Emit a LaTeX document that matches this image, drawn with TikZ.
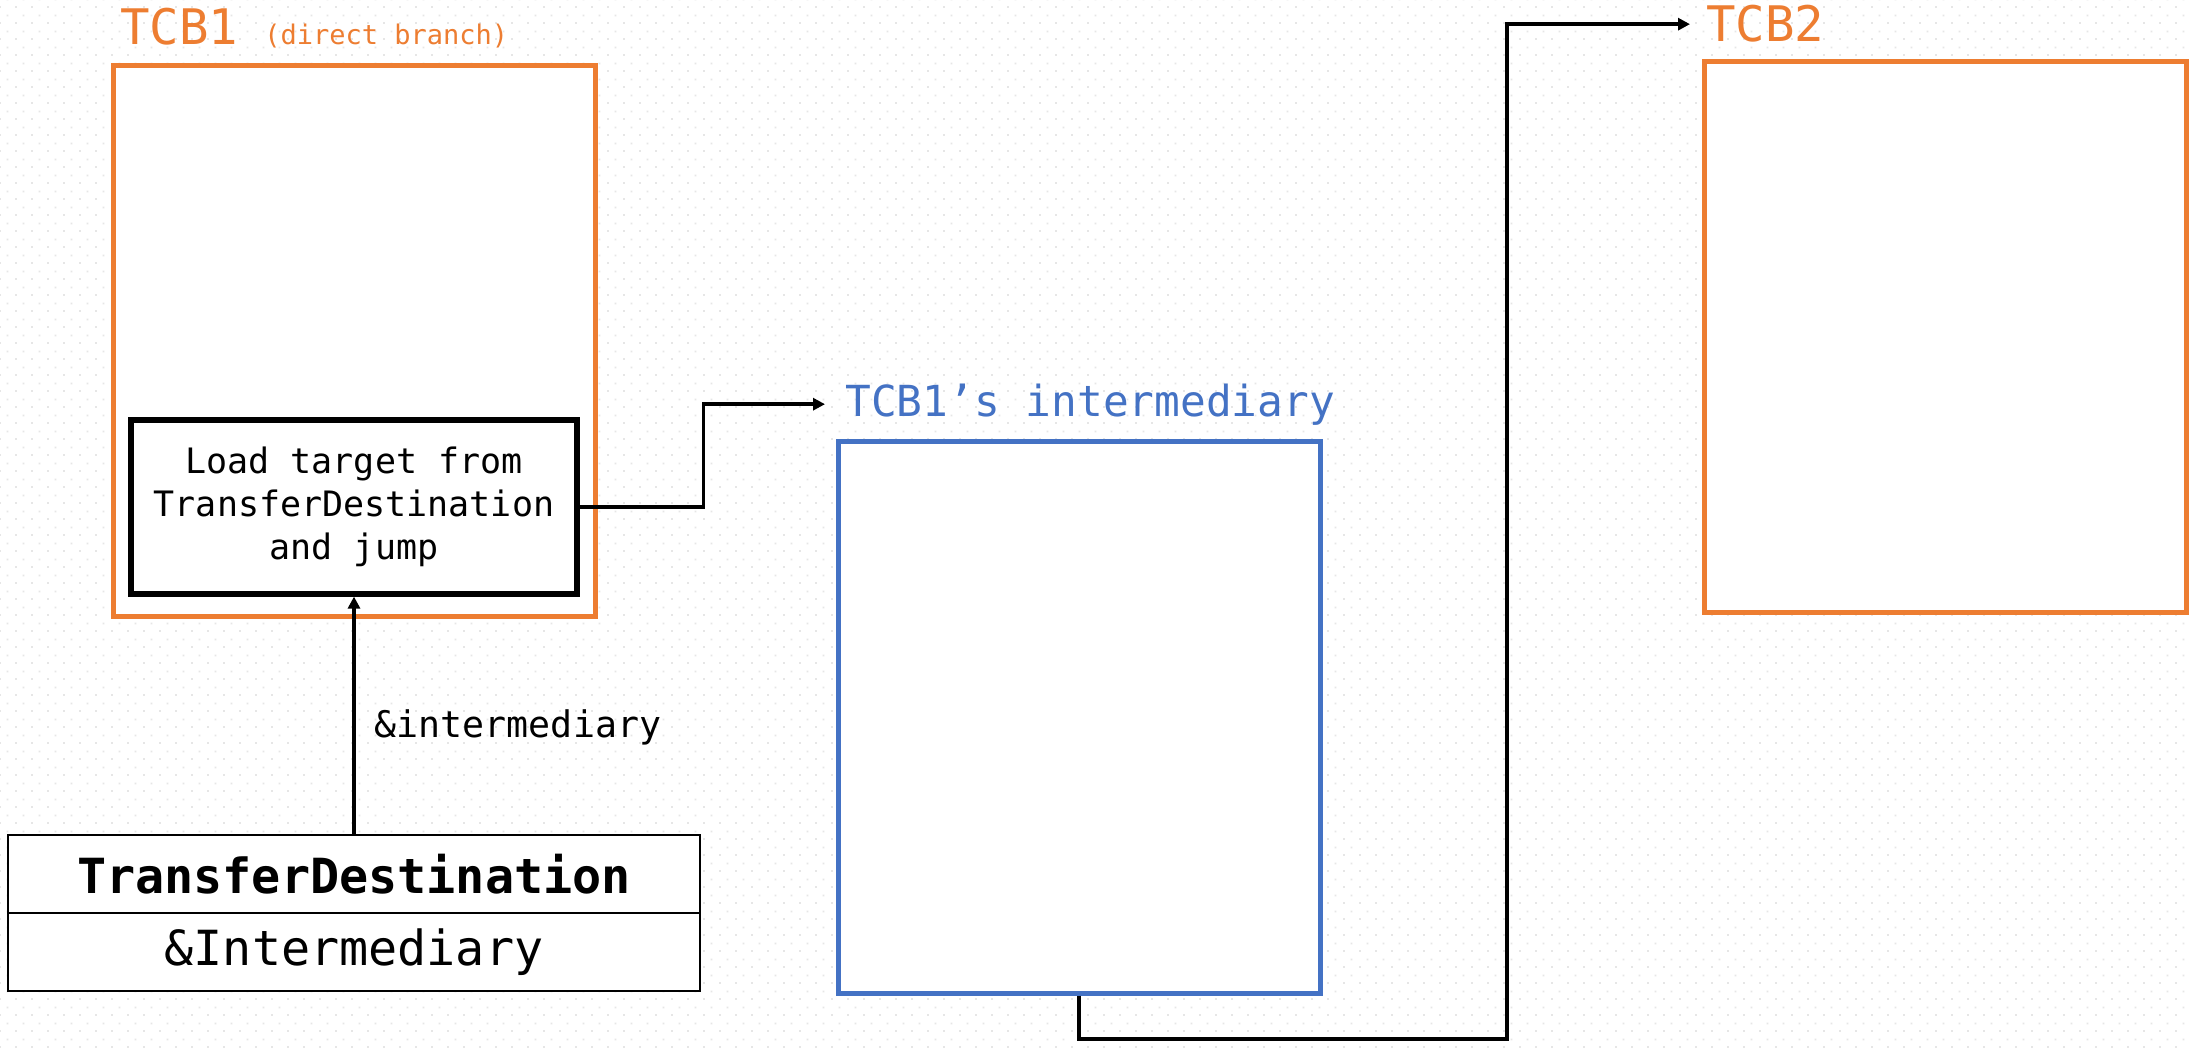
\documentclass[tikz,border=0pt]{standalone}
\usepackage{fontspec}
\setmonofont{DejaVu Sans Mono}
\usetikzlibrary{arrows.meta,patterns}

\definecolor{tcborange}{HTML}{ED7D31}
\definecolor{tcbblue}{HTML}{4472C4}
\definecolor{gridgray}{HTML}{E6E6E6}

% staggered dot grid for the canvas
\pgfdeclarepatternformonly{dotgrid}{\pgfqpoint{0pt}{0pt}}{\pgfqpoint{8pt}{8pt}}{\pgfqpoint{8pt}{8pt}}{%
  \pgfpathrectangle{\pgfqpoint{0pt}{0pt}}{\pgfqpoint{1pt}{1pt}}%
  \pgfpathrectangle{\pgfqpoint{4pt}{4pt}}{\pgfqpoint{1pt}{1pt}}%
  \pgfusepath{fill}}

\tikzset{
  mono/.style={font=\ttfamily\fontsize{#1}{1.22\dimexpr#1pt\relax}\selectfont},
  tcbbox/.style={draw=#1, fill=white, line width=2.5pt, inner sep=0pt,
    minimum width=241pt, minimum height=275pt},
  title/.style={anchor=base west, inner sep=0pt},
  codebox/.style={draw, fill=white, line width=2.6pt, align=center,
    minimum width=223pt, minimum height=87pt, mono=17.5},
  field/.style={draw, fill=white, line width=1.3pt, inner sep=0pt,
    minimum width=346pt, minimum height=39pt, mono=24.2},
  link/.style={line width=1.7pt, -{Triangle[length=6pt,width=6pt]}},
}

\begin{document}
\begin{tikzpicture}[x=0.5pt, y=-0.5pt]
  \useasboundingbox (0,0) rectangle (2190,1048);
  \fill[white] (0,0) rectangle (2190,1048);
  \fill[pattern=dotgrid, pattern color=gridgray] (0,0) rectangle (2190,1048);

  % TCB1 with its jump stub
  \node[tcbbox=tcborange] (tcb1) at (354,341) {};
  \node[title, mono=24.5, text=tcborange] (tcb1t) at (120,45) {TCB1};
  \node[title, mono=13.5, text=tcborange] (tcb1n) at (264,45) {(direct branch)};
  \node[codebox] (load) at (354,507)
    {Load target from\\TransferDestination\\and jump};

  % intermediary block
  \node[tcbbox=tcbblue, minimum height=276pt] (inter) at (1079,717) {};
  \node[title, mono=21.4, text=tcbblue] (intert) at (845,416) {TCB1’s intermediary};

  % TCB2
  \node[tcbbox=tcborange] (tcb2) at (1945,337) {};
  \node[title, mono=24.5, text=tcborange] (tcb2t) at (1706,42) {TCB2};

  % TransferDestination struct
  \node[field, font=\ttfamily\bfseries\fontsize{24.2}{29}\selectfont] (sthead) at (354,874) {TransferDestination};
  \node[field] (stbody) at (354,952) {\&Intermediary};

  % connectors
  \draw[link] (sthead.north) -- node[pos=0.45, anchor=west, inner sep=0pt, xshift=9.5pt, mono=18.3] (lbl) {\&intermediary} (load.south);
  \draw[link, shorten >=10pt] (load.east) -- ++(124,0) |- (intert.west);
  \coordinate (bend) at (1507,1039);
  \draw[link, shorten >=8pt] (inter.south) |- (bend) |- (tcb2t.west);
\end{tikzpicture}
\end{document}
